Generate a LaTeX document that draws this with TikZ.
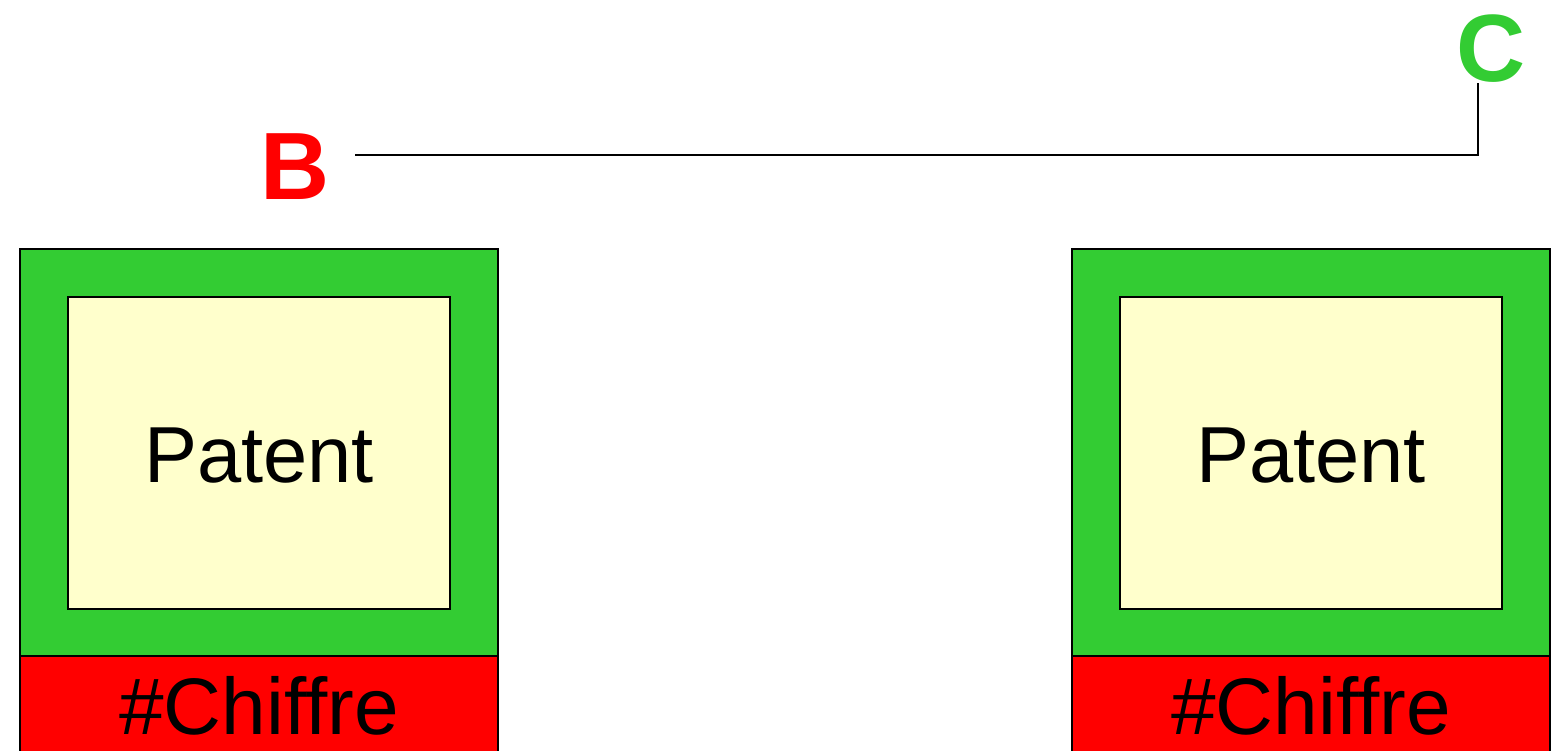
\documentclass[tikz,border=0pt]{standalone}
\usepackage{fontspec}
\setmainfont{Liberation Sans}
\usepackage{xcolor}
\usetikzlibrary{positioning}

\definecolor{cardgreen}{RGB}{51,204,51}
\definecolor{patentyellow}{RGB}{255,255,204}
\definecolor{chiffrered}{RGB}{255,0,0}

\tikzset{
  card/.style={draw=black,line width=0.6pt,fill=cardgreen,outer sep=0pt,
    minimum width=4.78cm,minimum height=4.07cm},
  patentbox/.style={draw=black,line width=0.6pt,fill=patentyellow,
    minimum width=3.82cm,minimum height=3.12cm},
  patenttext/.style={font=\fontsize{22.6}{27}\selectfont},
  chiffrebox/.style={draw=black,line width=0.6pt,fill=chiffrered,outer sep=0pt,
    minimum width=4.78cm,minimum height=1.0cm,inner sep=0pt,font=\fontsize{22.8}{27}\selectfont},
  letter/.style={font=\fontsize{27.2}{32}\selectfont\bfseries,inner sep=0pt}
}

\begin{document}
\begin{tikzpicture}[x=0.01cm,y=-0.01cm]
  \clip (0,0) rectangle (1551,750);
  % the two cards
  \node[card] (leftcard) at (259,452.5) {};
  \node[patentbox] (leftpatent) at (259,453) {};
  \node[patenttext] (leftlabel) at ([yshift=-0.03cm]leftpatent.center) {Patent};
  \node[chiffrebox,below=0pt of leftcard] (leftchiffre) {\#Chiffre};
  \node[card] (rightcard) at (1311,452.5) {};
  \node[patentbox] (rightpatent) at (1311,453) {};
  \node[patenttext] (rightlabel) at ([yshift=-0.03cm]rightpatent.center) {Patent};
  \node[chiffrebox,below=0pt of rightcard] (rightchiffre) {\#Chiffre};
  % letters and their link
  \node[letter,text=chiffrered] (B) at (295,167) {B};
  \node[letter,text=cardgreen,anchor=south] (C) at (1491,83) {C};
  \draw[line width=0.6pt] ([xshift=0.25cm,yshift=0.12cm]B.east) -| ([xshift=-0.13cm]C.south);
\end{tikzpicture}
\end{document}
